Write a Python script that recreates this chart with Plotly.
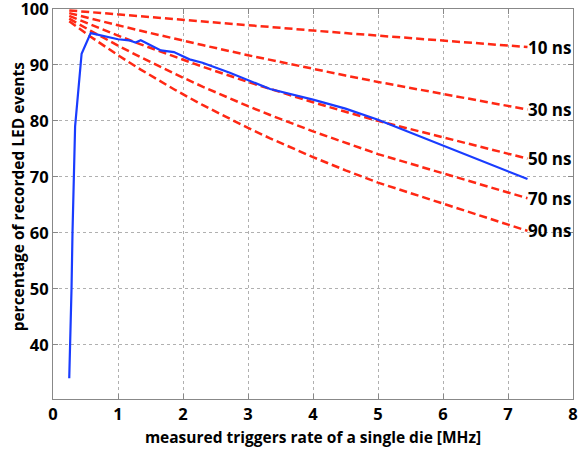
import plotly.graph_objects as go

# measured data (blue)
rate_meas = [0.25, 0.265, 0.285, 0.30, 0.315, 0.33, 0.34, 0.44, 0.58, 1.0, 1.17, 1.27, 1.35,
             1.66, 1.86, 2.1, 2.3, 2.72, 3.0, 3.34, 4.0, 4.5, 5.0, 7.3]
pct_meas = [34.0, 40.0, 50.0, 60.0, 70.0, 75.0, 79.0, 92.0, 95.7, 94.6, 94.4, 94.0, 94.4,
            92.6, 92.3, 91.0, 90.4, 88.6, 87.3, 85.7, 83.8, 82.2, 80.2, 69.6]

# dead-time curves (red dashed)
rate_model = [0.25, 0.34, 0.58, 1.0, 1.35, 1.88, 2.3, 3.0, 3.34, 4.0, 4.5, 5.0, 7.3]
pct_10ns = [99.75, 99.66, 99.42, 99.01, 98.67, 98.15, 97.75, 97.09, 96.77, 96.15, 95.69, 95.24, 93.20]
pct_30ns = [99.26, 98.99, 98.29, 97.09, 96.11, 94.66, 93.55, 91.74, 90.89, 89.29, 88.11, 86.96, 82.03]
pct_50ns = [98.77, 98.33, 97.18, 95.24, 93.68, 91.41, 89.69, 86.96, 85.69, 83.33, 81.63, 80.00, 73.26]
pct_70ns = [98.28, 97.68, 96.10, 93.46, 91.37, 88.37, 86.13, 82.64, 81.05, 78.13, 76.05, 74.07, 66.18]
pct_90ns = [97.80, 97.03, 95.04, 91.74, 89.17, 85.53, 82.85, 78.74, 76.89, 73.53, 71.17, 68.97, 60.35]
model_labels = ["10 ns", "30 ns", "50 ns", "70 ns", "90 ns"]
model_series = [pct_10ns, pct_30ns, pct_50ns, pct_70ns, pct_90ns]

x_ticks = [0, 1, 2, 3, 4, 5, 6, 7, 8]
y_ticks = [40, 50, 60, 70, 80, 90, 100]

RED = "rgb(255,40,20)"
BLUE = "rgb(25,60,255)"
FONT = "Open Sans"

fig = go.Figure()
for lab, ys in zip(model_labels, model_series):
    fig.add_trace(go.Scatter(x=rate_model, y=ys, mode="lines", name=lab,
                             line=dict(color=RED, width=2.5, dash="8px,4px"),
                             showlegend=False))
    fig.add_annotation(x=rate_model[-1], y=ys[-1], text="<b>" + lab + "</b>",
                       showarrow=False, xanchor="left", yanchor="middle", xshift=-2,
                       font=dict(family=FONT, size=17, color="black"))

fig.add_trace(go.Scatter(x=rate_meas, y=pct_meas, mode="lines", name="measured",
                         line=dict(color=BLUE, width=2.2), showlegend=False))

axis_common = dict(showline=True, linecolor="#888", linewidth=1, mirror="allticks",
                   ticks="inside", ticklen=5, tickcolor="#888", automargin=False,
                   ticklabeloverflow="allow",
                   showgrid=True, gridcolor="#b0b0b0", griddash="dot", gridwidth=1,
                   zeroline=False,
                   tickfont=dict(family=FONT, size=16.5, color="black", weight="bold"))

fig.update_xaxes(range=[0, 8], tickvals=x_ticks, ticktext=[str(v) for v in x_ticks],
                 title=dict(text="<b>measured triggers rate of a single die [MHz]</b>",
                            font=dict(family=FONT, size=15.5, color="black"), standoff=8),
                 **axis_common)
fig.update_yaxes(range=[30.3, 100], tickvals=y_ticks, ticktext=[str(v) for v in y_ticks],
                 **axis_common)

# y-axis title placed as a rotated paper annotation
fig.add_annotation(xref="paper", yref="paper", x=-0.067, y=0.52,
                   text="<b>percentage of recorded LED events</b>", textangle=-90,
                   showarrow=False, xanchor="center", yanchor="middle",
                   font=dict(family=FONT, size=15.5, color="black"))

fig.update_layout(width=579, height=460, plot_bgcolor="white", paper_bgcolor="white",
                  margin=dict(l=53, r=6, t=9, b=61), showlegend=False)

fig.write_html("out.html", config={"displayModeBar": False},
               post_script="document.body.style.margin='0';")
